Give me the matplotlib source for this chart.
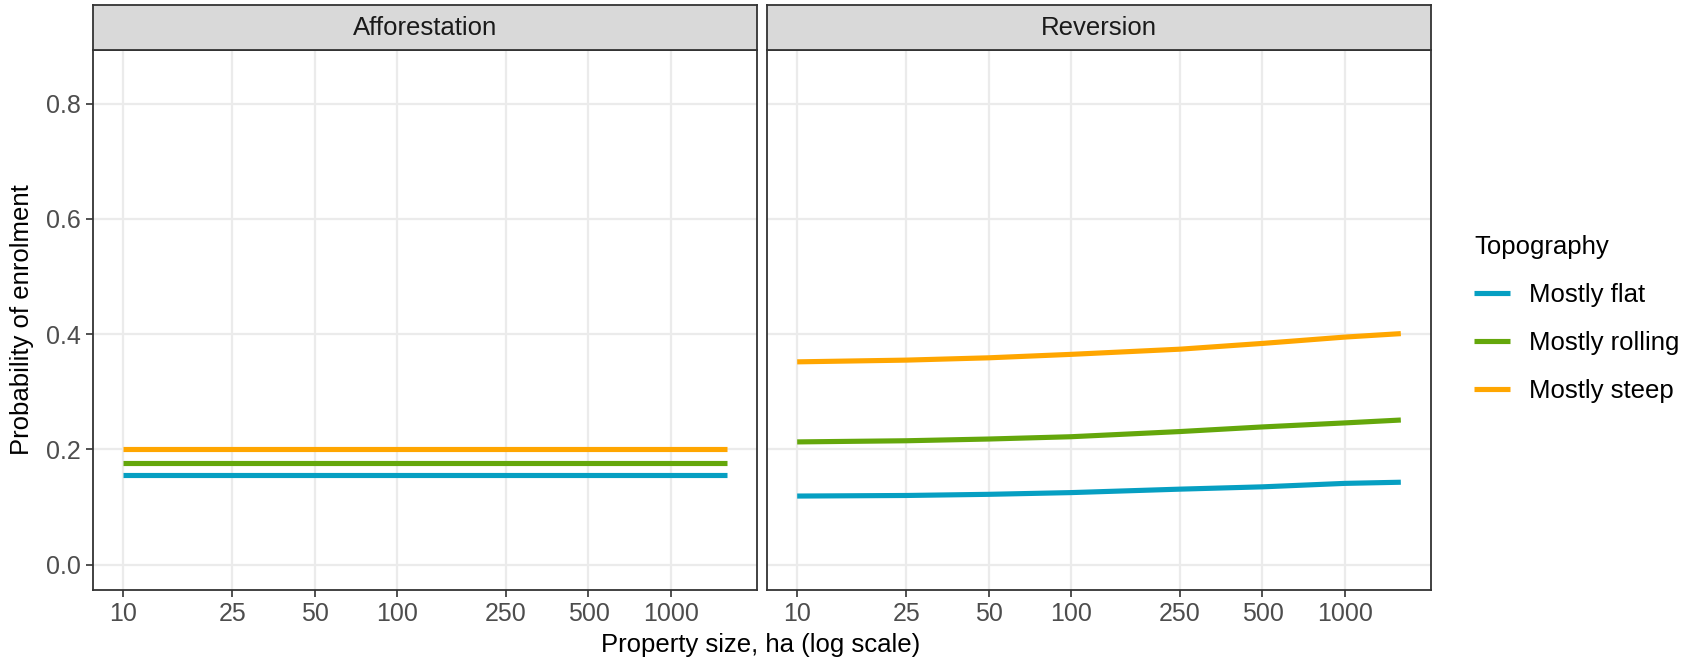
import numpy as np
import matplotlib.pyplot as plt

# predicted enrolment probability vs property size, by topography

panels = ["Afforestation", "Reversion"]
topography = ["Mostly flat", "Mostly rolling", "Mostly steep"]
colors = ["#069FC2", "#64A70B", "#FFA600"]

size_ha = [10, 25, 50, 100, 250, 500, 1000, 1600]

afforestation = {
    "Mostly flat": [0.155] * 8,
    "Mostly rolling": [0.177] * 8,
    "Mostly steep": [0.200] * 8,
}
reversion = {
    "Mostly flat": [0.119, 0.120, 0.122, 0.125, 0.131, 0.135, 0.141, 0.143],
    "Mostly rolling": [0.213, 0.215, 0.218, 0.222, 0.231, 0.239, 0.246, 0.251],
    "Mostly steep": [0.352, 0.355, 0.359, 0.365, 0.374, 0.384, 0.395, 0.401],
}
data = {"Afforestation": afforestation, "Reversion": reversion}

x_breaks = [10, 25, 50, 100, 250, 500, 1000]
y_breaks = [0.0, 0.2, 0.4, 0.6, 0.8]

W, H = 1696, 658
plt.rcParams["font.family"] = ["Liberation Sans", "DejaVu Sans"]
fig = plt.figure(figsize=(W / 100, H / 100), dpi=100)

dark = "#333333"
grid = "#EBEBEB"
fs = 18.5

# x range with ggplot-style 5% expansion on log scale
lo, hi = np.log10(min(size_ha)), np.log10(max(size_ha))
pad = 0.05 * (hi - lo)
xlim = (10 ** (lo - pad), 10 ** (hi + pad))
ylim = (-0.0441, 0.8934)

panel_x = [(93, 757), (767, 1431)]
top, bottom, strip_top = 50, 590, 5

axes = []
for i, name in enumerate(panels):
    x0, x1 = panel_x[i]
    ax = fig.add_axes([x0 / W, (H - bottom) / H, (x1 - x0) / W, (bottom - top) / H])
    ax.set_xscale("log")
    ax.set_xlim(xlim)
    ax.set_ylim(ylim)
    ax.set_xticks(x_breaks)
    ax.set_xticklabels([str(b) for b in x_breaks])
    ax.xaxis.set_minor_locator(plt.NullLocator())
    ax.set_yticks(y_breaks)
    ax.set_yticklabels([f"{b:.1f}" for b in y_breaks])
    ax.grid(True, color=grid, linewidth=1.6, zorder=0)
    ax.set_axisbelow(True)
    for s in ax.spines.values():
        s.set_color(dark)
        s.set_linewidth(1.3)
    ax.tick_params(colors=dark, labelcolor="#4D4D4D", labelsize=18, length=4.8,
                   width=1.2, pad=4)
    if i > 0:
        ax.tick_params(axis="y", left=False, labelleft=False)

    for topo, c in zip(topography, colors):
        ax.plot(size_ha, data[name][topo], color=c, linewidth=3.7,
                solid_capstyle="butt", label=topo, zorder=3)

    # facet strip
    sax = fig.add_axes([x0 / W, (H - top) / H, (x1 - x0) / W, (top - strip_top) / H])
    sax.set_xticks([])
    sax.set_yticks([])
    sax.set_facecolor("#D9D9D9")
    for s in sax.spines.values():
        s.set_color(dark)
        s.set_linewidth(1.3)
    sax.text(0.5, 0.48, name, ha="center", va="center", fontsize=fs,
             color="#1A1A1A", transform=sax.transAxes)
    axes.append(ax)

fig.text(22 / W, 1 - 320 / H, "Probability of enrolment", rotation=90,
         ha="center", va="center", fontsize=fs, color="black")
fig.text(761 / W, 1 - 645 / H, "Property size, ha (log scale)",
         ha="center", va="center", fontsize=fs, color="black")

handles, labels = axes[0].get_legend_handles_labels()
leg = fig.legend(handles, labels, title="Topography", loc="upper left",
                 bbox_to_anchor=(1474 / W, 1 - 235 / H), frameon=False,
                 fontsize=fs, title_fontsize=fs, handlelength=1.4,
                 handletextpad=0.75, labelspacing=0.93, borderaxespad=0,
                 borderpad=0)
leg._legend_box.align = "left"

fig.savefig("out.png", dpi=100)
